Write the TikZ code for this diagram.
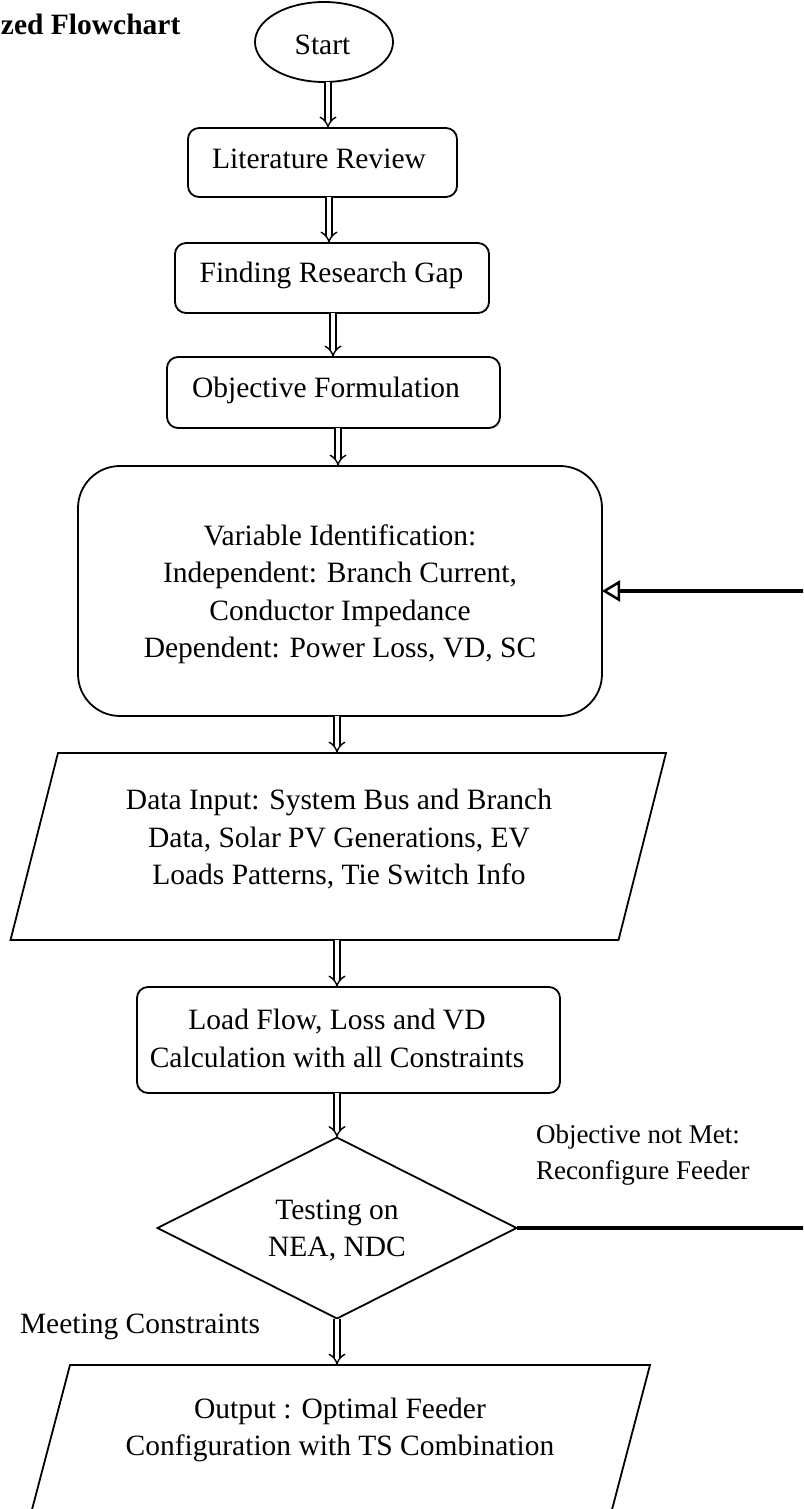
\documentclass[tikz,border=0pt]{standalone}
\usepackage{fontspec}
\setmainfont{Liberation Serif}
\usetikzlibrary{arrows.meta,shapes.geometric}

\begin{document}
\begin{tikzpicture}[x=1pt,y=-1pt,
  every node/.style={inner sep=0pt, outer sep=0pt},
  txt/.style={font=\fontsize{29.5}{37.5}\selectfont, align=center},
  lbl/.style={font=\fontsize{27}{36}\selectfont, align=left},
  shapeline/.style={draw, line width=1.8pt},
  procbox/.style={shapeline, rounded corners=11pt},
  flow/.style={double, double distance=4.5pt, line width=1.4pt, -{Implies}},
  back/.style={line width=4.5pt, -{Triangle[open, length=18pt, width=21pt, line width=2.5pt]}},
]
\useasboundingbox (0,0) rectangle (803,1509);
\clip (0,0) rectangle (803,1509);

% title
\node[font=\fontsize{29.5}{36}\selectfont\bfseries, anchor=base west] (title) at (1,35) {zed Flowchart};

% terminal
\node[shapeline, ellipse, minimum width=138pt, minimum height=80pt] (start) at (324,42) {};
\node[txt, anchor=base] at (322.5,55) {Start};

% process boxes
\node[procbox, minimum width=269pt, minimum height=69pt] (lit) at (322.5,162.5) {};
\node[txt, anchor=base] at (319,168) {Literature Review};

\node[procbox, minimum width=314pt, minimum height=70pt] (gap) at (332,278) {};
\node[txt, anchor=base] at (331.5,282) {Finding Research Gap};

\node[procbox, minimum width=333pt, minimum height=71pt] (obj) at (333.5,392.5) {};
\node[txt, anchor=base] at (326,397) {Objective Formulation};

\node[procbox, rounded corners=42pt, minimum width=524pt, minimum height=250pt] (var) at (340,591) {};
\node[txt] at (340,594) {Variable Identification:\\Independent: Branch Current,\\Conductor Impedance\\Dependent: Power Loss, VD, SC};

% input data
\node[minimum width=560.5pt, minimum height=187pt] (data) at (338.25,846.5) {};
\draw[line width=1.8pt] (data.north west) -- ([xshift=47.5pt]data.north east) -- (data.south east) -- ([xshift=-47.5pt]data.south west) -- cycle;
\node[txt] at (339,839.5) {Data Input: System Bus and Branch\\Data, Solar PV Generations, EV\\Loads Patterns, Tie Switch Info};

\node[procbox, minimum width=423pt, minimum height=106pt] (load) at (348.5,1040) {};
\node[txt] at (337,1038.5) {Load Flow, Loss and VD\\Calculation with all Constraints};

% decision
\node[shapeline, diamond, aspect=2, minimum width=359pt, minimum height=181pt] (test) at (337,1228) {};
\node[txt] at (337,1230.5) {Testing on\\NEA, NDC};

% output
\node[minimum width=534pt, minimum height=175pt] (out) at (337,1452.5) {};
\draw[line width=1.8pt] (out.north west) -- ([xshift=46pt]out.north east) -- (out.south east) -- ([xshift=-46pt]out.south west) -- cycle;
\node[txt] at (340,1430) {Output : Optimal Feeder\\Configuration with TS Combination};

% branch labels
\node[lbl, anchor=north west] (notmet) at (536,1124.5) {Objective not Met:\\Reconfigure Feeder};
\node[txt, anchor=base west] (met) at (20,1333) {Meeting Constraints};

% connector columns
\coordinate (c1) at (328,0);
\coordinate (c2) at (329,0);
\coordinate (c3) at (333,0);
\coordinate (c4) at (338,0);
\coordinate (c5) at (337,0);

% main flow
\draw[flow] (start.south -| c1) -- (lit.north -| c1);
\draw[flow] (lit.south -| c2) -- (gap.north -| c2);
\draw[flow] (gap.south -| c3) -- (obj.north -| c3);
\draw[flow] (obj.south -| c4) -- (var.north -| c4);
\draw[flow] (var.south -| c5) -- (data.north -| c5);
\draw[flow] (data.south -| c5) -- (load.north -| c5);
\draw[flow] (load.south -| c5) -- (test.north);
\draw[flow] (test.south) -- (out.north -| c5);

% reconfiguration loop
\draw[back] (test.east) -- ++(330,0) |- (var.east);
\end{tikzpicture}
\end{document}
